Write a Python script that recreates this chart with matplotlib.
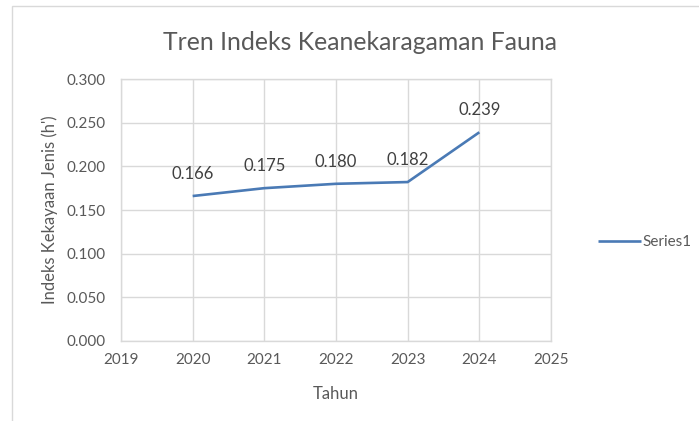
#!/usr/bin/env python3
"""Recreate the Excel-style fauna diversity trend line chart."""

import matplotlib

matplotlib.use("Agg")
import matplotlib.pyplot as plt
from matplotlib.patches import Rectangle

YEARS = [2020, 2021, 2022, 2023, 2024]
INDEX_VALUES = [0.166, 0.175, 0.180, 0.182, 0.239]
X_TICKS = [2019, 2020, 2021, 2022, 2023, 2024, 2025]
Y_TICKS = [0.0, 0.05, 0.10, 0.15, 0.20, 0.25, 0.30]

TEXT_COLOR = "#595959"
GRID_COLOR = "#d9d9d9"
LINE_COLOR = "#4a7ab5"

plt.rcParams["font.family"] = ["Lato", "DejaVu Sans"]

W, H = 699, 421
fig = plt.figure(figsize=(W / 100, H / 100), dpi=100)
fig.patch.set_facecolor("white")

# chart outer border (only left and top edges are visible in the crop)
fig.add_artist(
    Rectangle(
        (12 / W, -0.1), 1.2, 1.1 - 6 / H,
        transform=fig.transFigure, fill=False, edgecolor="#d9d9d9", linewidth=1.0,
    )
)

left, right, top, bottom = 121, 551, 79, 341
ax = fig.add_axes([left / W, 1 - bottom / H, (right - left) / W, (bottom - top) / H])

(line,) = ax.plot(YEARS, INDEX_VALUES, color=LINE_COLOR, linewidth=1.9,
                  solid_capstyle="butt", label="Series1")

for year, value in zip(YEARS, INDEX_VALUES):
    ax.annotate(f"{value:.3f}", (year, value), xytext=(0, 16), textcoords="offset points",
                ha="center", va="center", fontsize=12, color="#404040")

ax.set_xlim(2019, 2025)
ax.set_ylim(0, 0.3)
ax.set_xticks(X_TICKS)
ax.set_yticks(Y_TICKS)
ax.set_yticklabels([f"{v:.3f}" for v in Y_TICKS])
ax.tick_params(axis="both", length=0, labelsize=11, labelcolor=TEXT_COLOR)
ax.tick_params(axis="x", pad=9)
ax.tick_params(axis="y", pad=11)
ax.grid(True, color=GRID_COLOR, linewidth=1.0)
ax.set_axisbelow(True)
for spine in ax.spines.values():
    spine.set_color(GRID_COLOR)
    spine.set_linewidth(1.0)

ax.set_xlabel("Tahun", fontsize=12, color=TEXT_COLOR, labelpad=13)
ax.set_ylabel("Indeks Kekayaan Jenis (h')", fontsize=12, color=TEXT_COLOR, labelpad=6)

fig.text(360 / W, 1 - 42 / H, "Tren Indeks Keanekaragaman Fauna", ha="center", va="center",
         fontsize=17.8, color=TEXT_COLOR)

fig.legend(handles=[line], loc="center left", bbox_to_anchor=(592 / W, 1 - 242 / H),
           frameon=False, fontsize=11, labelcolor=TEXT_COLOR, handlelength=2.8,
           handletextpad=0.1, borderaxespad=0)

fig.savefig("out.png", dpi=100)
